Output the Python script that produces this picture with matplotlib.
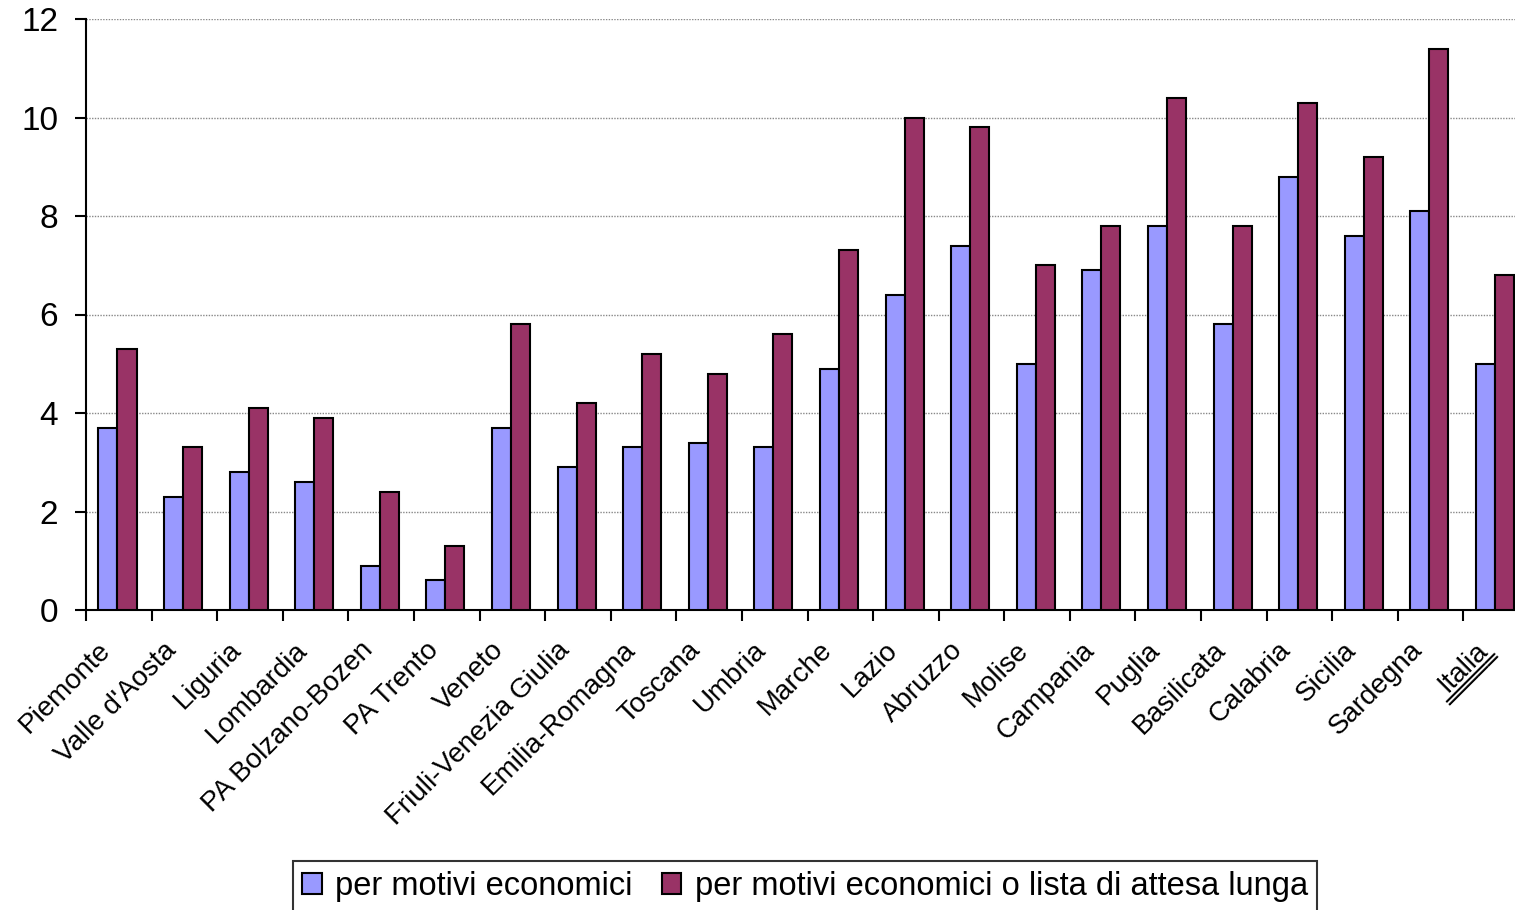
import matplotlib.pyplot as plt
import numpy as np

plt.rcParams['font.family'] = ['Liberation Sans', 'DejaVu Sans']

regioni = ['Piemonte', "Valle d'Aosta", 'Liguria', 'Lombardia', 'PA Bolzano-Bozen',
           'PA Trento', 'Veneto', 'Friuli-Venezia Giulia', 'Emilia-Romagna', 'Toscana',
           'Umbria', 'Marche', 'Lazio', 'Abruzzo', 'Molise', 'Campania', 'Puglia',
           'Basilicata', 'Calabria', 'Sicilia', 'Sardegna', 'Italia']
economici = [3.7, 2.3, 2.8, 2.6, 0.9, 0.6, 3.7, 2.9, 3.3, 3.4, 3.3, 4.9,
             6.4, 7.4, 5.0, 6.9, 7.8, 5.8, 8.8, 7.6, 8.1, 5.0]
economici_attesa = [5.3, 3.3, 4.1, 3.9, 2.4, 1.3, 5.8, 4.2, 5.2, 4.8, 5.6, 7.3,
                    10.0, 9.8, 7.0, 7.8, 10.4, 7.8, 10.3, 9.2, 11.4, 6.8]

fig = plt.figure(figsize=(15.15, 9.1), dpi=100)
ax = fig.add_axes([86 / 1515, 1 - 610 / 910, (1529 - 86) / 1515, (610 - 19) / 910])

x = np.arange(len(regioni))
w = 0.29
ax.bar(x - 0.02 - w / 2, economici, w, color='#9999FF', edgecolor='black',
       linewidth=1.5, label='per motivi economici', zorder=3)
ax.bar(x - 0.02 + w / 2, economici_attesa, w, color='#993366', edgecolor='black',
       linewidth=1.5, label='per motivi economici o lista di attesa lunga', zorder=3)

ax.set_xlim(-0.5, len(regioni) - 0.5)
ax.set_ylim(0, 12)
ax.set_yticks(range(0, 13, 2))
ax.tick_params(axis='y', labelsize=24, length=8, width=1.5, direction='out', pad=12)
ax.yaxis.grid(True, color='#888888', linestyle=(0, (1, 1)), linewidth=1)
ax.set_axisbelow(True)

# tick marks at category boundaries, labels at centers
ax.set_xticks(np.arange(-0.5, len(regioni), 1))
ax.set_xticklabels([])
ax.tick_params(axis='x', length=8, width=1.5, direction='out')
for i, name in enumerate(regioni):
    ax.text(i - 0.33, -0.55, name, rotation=45, rotation_mode='anchor',
            ha='right', va='top', fontsize=20)
    if name == 'Italia':
        # double underline
        ax.text(i - 0.25, -0.56, '\u2017' * 5, rotation=45, rotation_mode='anchor',
                ha='right', va='top', fontsize=20, family='DejaVu Sans')

for side in ['top', 'right']:
    ax.spines[side].set_visible(False)
for side in ['left', 'bottom']:
    ax.spines[side].set_linewidth(1.5)

leg = fig.legend(loc='lower center', bbox_to_anchor=(805 / 1515, -0.02), ncol=2,
                 fontsize=23.5, frameon=True, fancybox=False, edgecolor='black',
                 handlelength=0.6, handleheight=0.6, handletextpad=0.4,
                 columnspacing=0.9, borderpad=0.3)
leg.get_frame().set_linewidth(1.5)

fig.savefig('out.png', dpi=100)
